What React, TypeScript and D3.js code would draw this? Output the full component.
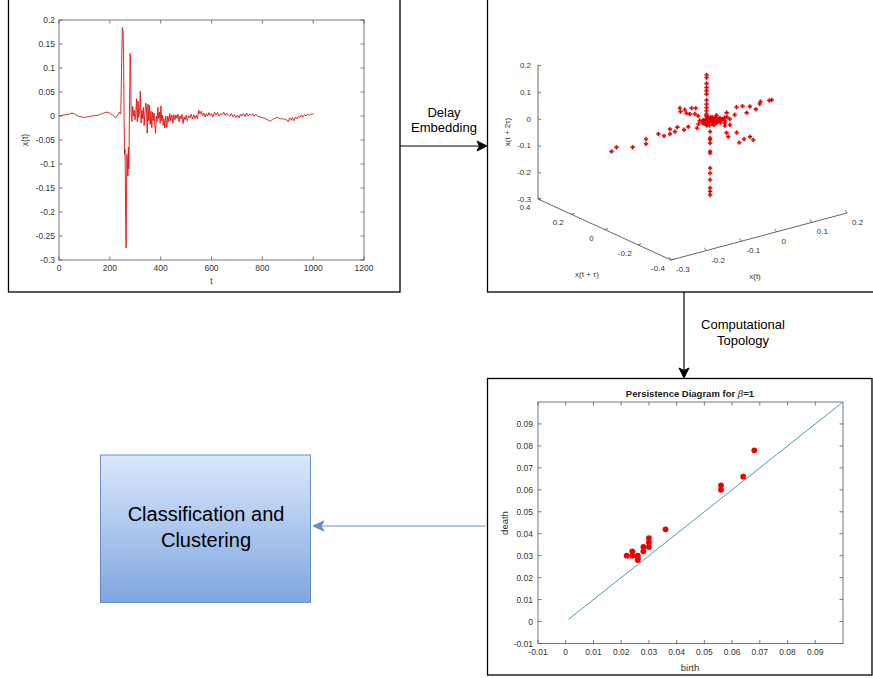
import React from "react";
import * as d3 from "d3";

// ---------- DATA ----------
// time series x(t): [t, value]
const seriesT: number[] = [
  0, 10, 20, 30, 40, 50, 60, 70, 80, 90, 100, 110, 120, 130, 140, 150, 160, 170, 180, 190, 200, 210, 220, 225, 230, 237, 243,
  247, 249, 252, 254, 256, 258, 260, 262, 264, 265, 267, 269, 271, 273, 275, 277, 280, 282, 284, 287,
  290, 293, 296, 299, 302, 305, 308, 311, 314, 317, 320, 323, 326, 329, 332, 335, 338, 341, 344, 347, 350, 353, 356, 359,
  362, 365, 368, 371, 374, 377, 380, 383, 386, 389, 392, 395, 398, 401, 404, 407, 410, 413, 416, 420,
  424, 428, 432, 436, 440, 444, 448, 452, 456, 460, 464, 468, 472, 476, 480, 484, 488, 492, 496, 500,
  505, 510, 515, 520, 525, 530, 535, 540, 545, 550, 555, 560, 565, 570, 575, 580, 585, 590, 595, 600,
  606, 612, 618, 624, 630, 636, 642, 648, 654, 660, 666, 672, 678, 684, 690, 696, 702, 708, 714, 720,
  726, 732, 738, 744, 750, 756, 762, 768, 774, 780, 790, 800, 810, 820, 826, 832, 840, 848, 856, 864,
  872, 880, 886, 892, 897, 902, 908, 914, 918, 924, 930, 936, 942, 948, 954, 960, 966, 972, 978, 984, 990, 996, 1002,
];
const seriesX: number[] = [
  0.0, 0.001, 0.002, 0.003, 0.004, 0.006, 0.005, 0.001, -0.001, -0.002, -0.003, -0.002, -0.001, 0.0, 0.001, 0.001, 0.003, 0.005, 0.007, 0.008, 0.006, 0.002, -0.002, -0.003, 0.001, 0.008, 0.004,
  0.12, 0.184, 0.178, 0.13, 0.0, -0.08, -0.07, -0.2, -0.275, -0.2, -0.08, -0.1, -0.125, -0.065, -0.11, 0.0, 0.13, 0.1, 0.0, -0.012,
  0.02, 0.0, 0.012, -0.008, 0.005, 0.036, -0.012, 0.031, -0.003, 0.01, 0.052, -0.015, 0.012, -0.006, 0.018, -0.02, 0.006, 0.027, 0.02, -0.036, 0.025, -0.01, 0.022,
  -0.018, 0.01, -0.024, 0.008, -0.01, 0.006, -0.02, -0.036, 0.0, -0.012, 0.018, -0.005, 0.008, -0.015, 0.021, -0.01, 0.002, -0.02, -0.006, -0.025, 0.0, -0.024,
  0.0, -0.012, 0.005, -0.01, 0.002, -0.015, 0.003, -0.008, 0.002, -0.005, 0.004, -0.012, 0.0, -0.006, 0.003, -0.016, -0.002, -0.008, 0.002, -0.01,
  0.001, -0.004, 0.004, -0.006, 0.003, -0.005, 0.002, -0.006, 0.012, 0.004, 0.01, 0.0, 0.006, -0.002, 0.005, 0.0, 0.007, 0.001, 0.005, -0.002,
  0.008, 0.002, 0.007, 0.0, 0.005, 0.003, 0.008, 0.001, 0.006, 0.002, 0.0, 0.005, -0.002, 0.003, -0.003, 0.002, -0.004, 0.004, 0.0, 0.005,
  -0.001, 0.006, 0.0, 0.004, 0.001, 0.005, -0.001, 0.004, 0.0, -0.002, -0.003, -0.005, -0.008, -0.009, -0.011, -0.007, -0.005, -0.003, -0.004, -0.006,
  -0.005, -0.008, -0.006, -0.01, -0.012, -0.004, -0.008, -0.003, -0.01, -0.002, -0.006, 0.0, -0.003, 0.002, -0.002, 0.003, 0.0, 0.004, 0.001, 0.005, 0.003, 0.005, 0.004,
];
const tsXTicks = [0, 200, 400, 600, 800, 1000, 1200];
const tsYTicks = [0.2, 0.15, 0.1, 0.05, 0, -0.05, -0.1, -0.15, -0.2, -0.25, -0.3];

// delay embedding points: x(t), x(t+tau), x(t+2tau)
const embXt: number[] = [
  -0.01, -0.01, -0.01, -0.01, -0.01, -0.01, -0.01, -0.01, -0.01, -0.01, -0.01, 0, 0, 0, 0, 0, 0, 0, 0, 0, 0, 0, 0,
  -0.28, -0.266, -0.22, -0.182, -0.182, -0.147, -0.131, -0.114, -0.114, -0.1, -0.093, -0.074, -0.062, -0.037,
  0.175, 0.168, 0.143, 0.141, 0.13, 0.113, 0.104, 0.092, 0.075, 0.07, 0.056, 0.047, 0.042,
  0, 0, 0, 0, 0, 0, 0, 0, 0,
  0, 0, 0, 0, 0, 0, 0, 0, 0,
  0, 0.006, -0.006, 0.012, -0.012, 0.009, -0.009, 0.003, 0.018, -0.018, 0.015, -0.003, 0.006, -0.012, 0.021, 0.024, -0.021, 0, 0.012, -0.006,
  0.027, 0.03, -0.024, 0.009, 0.017, -0.015, 0.005, 0.036, -0.03, 0.018, 0.007, -0.005, 0.024, 0.033, -0.009, 0.039, 0.012, -0.018, 0.042, 0,
  0.004, -0.004, 0.008, -0.008, 0.002, 0.014, -0.014, 0.01, 0.02, -0.002, 0.016, -0.01, 0.026, 0.005, -0.016, 0.011, 0.001, 0.022, -0.007, 0.013,
];
const embXtau: number[] = [
  0, 0, 0, 0, 0, 0, 0, 0, 0, 0, 0, 0, 0, 0, 0, 0, 0, 0, 0, 0, 0, 0, 0,
  0, 0, 0, 0, 0, 0, 0, 0, 0, 0, 0, 0, 0, 0,
  0, 0, 0, 0, 0, 0, 0, 0, 0, 0, 0, 0, 0,
  0.182, 0.178, 0.152, 0.142, 0.111, 0.122, 0.086, 0.092, 0.072,
  -0.099, -0.109, -0.16, -0.175, -0.204, -0.24, -0.26, -0.089, -0.119,
  0, 0, 0.006, -0.006, 0, 0.006, -0.006, 0.012, 0, 0.006, -0.012, -0.012, 0.009, 0.012, 0.006, -0.006, 0, -0.018, 0.012, -0.009,
  0, -0.012, 0.012, -0.018, 0.009, -0.012, 0.018, 0, 0.006, -0.024, -0.003, 0.003, 0.012, -0.018, 0.021, -0.006, 0, -0.018, -0.012, 0.024,
  0.002, -0.002, 0.004, 0.008, -0.008, -0.004, 0.004, -0.01, 0.006, 0.01, -0.006, 0.002, -0.004, -0.012, 0.008, 0.014, -0.014, -0.008, 0.004, 0,
];
const embX2tau: number[] = [
  0.175, 0.165, 0.143, 0.128, 0.116, 0.103, 0.081, 0.066, 0.053, 0.041, 0.029, -0.04, -0.064, -0.07, -0.083, -0.114, -0.12, -0.176, -0.195, -0.22, -0.25, -0.263, -0.276,
  -0.016, -0.005, -0.021, -0.022, -0.004, 0.003, -0.01, -0.009, 0.009, -0.005, 0.009, -0.007, 0, -0.014,
  0.017, 0.017, 0.022, 0.014, -0.002, 0.014, -0.006, 0.023, 0.025, -0.002, -0.013, 0.014, -0.023,
  -0.004, -0.016, -0.002, -0.012, 0.016, -0.009, 0.023, 0, -0.002,
  -0.016, -0.028, 0.002, -0.031, -0.01, 0.009, 0.003, 0.007, 0.019,
  0, 0.003, 0, 0.006, -0.006, -0.003, 0.005, -0.006, 0, 0.003, -0.006, 0.007, 0.009, -0.009, -0.003, 0.003, 0, -0.003, 0.006, -0.012,
  -0.009, 0, 0.006, 0.012, -0.012, 0.009, 0.003, -0.006, -0.003, -0.006, -0.015, 0.015, 0.009, 0.006, -0.003, -0.012, -0.018, -0.006, 0.003, 0.012,
  0.002, -0.002, -0.004, 0.004, 0.006, -0.006, 0.002, 0.008, -0.008, 0.004, -0.01, 0.01, 0.002, -0.004, 0.006, -0.002, 0.012, -0.005, -0.012, 0.0,
];
const embXtTicks = [-0.3, -0.2, -0.1, 0, 0.1, 0.2];
const embXtauTicks = [0.4, 0.2, 0, -0.2, -0.4];
const embZTicks = [0.2, 0.1, 0, -0.1, -0.2, -0.3];

// persistence diagram
const pdBirth: number[] = [0.022, 0.024, 0.024, 0.026, 0.026, 0.026, 0.028, 0.028, 0.03, 0.03, 0.03, 0.036, 0.056, 0.056, 0.064, 0.068];
const pdDeath: number[] = [0.03, 0.03, 0.032, 0.028, 0.029, 0.03, 0.032, 0.034, 0.034, 0.036, 0.038, 0.042, 0.06, 0.062, 0.066, 0.078];
const pdTicks = [-0.01, 0, 0.01, 0.02, 0.03, 0.04, 0.05, 0.06, 0.07, 0.08, 0.09];
const pdDiagonal = [0.001, 0.1];

const FONT = "'Liberation Sans', Arial, Helvetica, sans-serif";
const fmt = (v: number) => (Math.abs(v) < 1e-9 ? "0" : String(+v.toFixed(3)));

export default function App() {
  // ---------- panel 1 ----------
  const tx = d3.scaleLinear().domain([0, 1200]).range([59, 364]);
  const ty = d3.scaleLinear().domain([-0.3, 0.2]).range([260, 20]);
  const tsLine = d3
    .line<number>()
    .x((_, i) => tx(seriesT[i]))
    .y((d) => ty(d));

  // ---------- panel 2 (3D) ----------
  const ox = 671, oy = 260;
  const xtDx = d3.scaleLinear().domain([-0.3, 0.2]).range([0, 176]);
  const xtDy = d3.scaleLinear().domain([-0.3, 0.2]).range([0, -47]);
  const xaDx = d3.scaleLinear().domain([-0.4, 0.4]).range([0, -133]);
  const xaDy = d3.scaleLinear().domain([-0.4, 0.4]).range([0, -61]);
  const zDy = d3.scaleLinear().domain([-0.3, 0.2]).range([0, -134]);
  const proj = (a: number, b: number, c: number): [number, number] => [
    ox + xtDx(a) + xaDx(b),
    oy + xtDy(a) + xaDy(b) + zDy(c),
  ];
  const corner = proj(-0.3, 0.4, -0.3);
  const crossSym = d3.symbol().type(d3.symbolCross).size(9)();

  // ---------- panel 3 ----------
  const px = d3.scaleLinear().domain([-0.01, 0.1]).range([538, 843]);
  const py = d3.scaleLinear().domain([-0.01, 0.1]).range([643.5, 402]);

  const axisCol = "#555";
  const txtCol = "#333";

  return (
    <svg width={873} height={678} style={{ position: "absolute", left: 0, top: 0, background: "#fff" }} fontFamily={FONT}>
      <defs>
        <linearGradient id="boxGrad" x1="0" y1="0" x2="0" y2="1">
          <stop offset="0%" stopColor="#dae8fc" />
          <stop offset="100%" stopColor="#7ea6e0" />
        </linearGradient>
      </defs>

      {/* Panel frames */}
      <rect x={8.5} y={-5} width={391.5} height={297} fill="none" stroke="#000" strokeWidth={1.3} />
      <rect x={487.5} y={-5} width={400} height={297} fill="none" stroke="#000" strokeWidth={1.3} />
      <rect x={487.5} y={378.5} width={384.5} height={296.5} fill="none" stroke="#000" strokeWidth={1.3} />

      {/* ---------- Panel 1: time series ---------- */}
      <g>
        <rect x={tx(0)} y={ty(0.2)} width={tx(1200) - tx(0)} height={ty(-0.3) - ty(0.2)} fill="none" stroke={axisCol} strokeWidth={0.8} />
        {tsXTicks.map((t) => (
          <g key={"tx" + t}>
            <line x1={tx(t)} x2={tx(t)} y1={ty(-0.3)} y2={ty(-0.3) - 3.5} stroke={axisCol} strokeWidth={0.8} />
            <line x1={tx(t)} x2={tx(t)} y1={ty(0.2)} y2={ty(0.2) + 3.5} stroke={axisCol} strokeWidth={0.8} />
            <text x={tx(t)} y={ty(-0.3) + 11} fontSize={8.5} fill={txtCol} textAnchor="middle">{t}</text>
          </g>
        ))}
        {tsYTicks.map((v) => (
          <g key={"ty" + v}>
            <line x1={tx(0)} x2={tx(0) + 3.5} y1={ty(v)} y2={ty(v)} stroke={axisCol} strokeWidth={0.8} />
            <line x1={tx(1200)} x2={tx(1200) - 3.5} y1={ty(v)} y2={ty(v)} stroke={axisCol} strokeWidth={0.8} />
            <text x={tx(0) - 4} y={ty(v) + 3} fontSize={8.5} fill={txtCol} textAnchor="end">{fmt(v)}</text>
          </g>
        ))}
        <path d={tsLine(seriesX) || ""} fill="none" stroke="#dd1111" strokeWidth={0.9} strokeLinejoin="round" />
        <text x={tx(600)} y={284} fontSize={8.5} fill={txtCol} textAnchor="middle">t</text>
        <text transform={`translate(28,${ty(-0.05)}) rotate(-90)`} fontSize={8.5} fill={txtCol} textAnchor="middle">x(t)</text>
      </g>

      {/* Delay Embedding arrow */}
      <line x1={400} y1={146} x2={481} y2={146} stroke="#000" strokeWidth={1.2} />
      <path d="M487,146 L477,141 L479.5,146 L477,151 Z" fill="#000" stroke="#000" strokeWidth={1} />
      <text x={444} y={117} fontSize={13} textAnchor="middle" fill="#000">Delay</text>
      <text x={444} y={132} fontSize={13} textAnchor="middle" fill="#000">Embedding</text>

      {/* ---------- Panel 2: 3D embedding ---------- */}
      <g>
        <line x1={corner[0]} y1={proj(-0.3, 0.4, 0.2)[1]} x2={corner[0]} y2={corner[1]} stroke={axisCol} strokeWidth={0.9} />
        <line x1={corner[0]} y1={corner[1]} x2={proj(-0.3, -0.4, -0.3)[0]} y2={proj(-0.3, -0.4, -0.3)[1]} stroke={axisCol} strokeWidth={0.9} />
        <line x1={ox} y1={oy} x2={proj(0.2, -0.4, -0.3)[0]} y2={proj(0.2, -0.4, -0.3)[1]} stroke={axisCol} strokeWidth={0.9} />
        {embZTicks.map((v) => {
          const p = proj(-0.3, 0.4, v);
          return (
            <g key={"ez" + v}>
              <line x1={p[0]} x2={p[0] + 3} y1={p[1]} y2={p[1] + 1} stroke={axisCol} strokeWidth={0.8} />
              <text x={p[0] - 7} y={p[1] + 3} fontSize={8} fill={txtCol} textAnchor="end">{fmt(v)}</text>
            </g>
          );
        })}
        {embXtauTicks.map((v) => {
          const p = proj(-0.3, v, -0.3);
          return (
            <g key={"ea" + v}>
              <line x1={p[0]} x2={p[0] + 3.5} y1={p[1]} y2={p[1] - 1} stroke={axisCol} strokeWidth={0.8} />
              <text x={p[0] - 13} y={p[1] + 11} fontSize={8} fill={txtCol} textAnchor="middle">{fmt(v)}</text>
            </g>
          );
        })}
        {embXtTicks.map((v) => {
          const p = proj(v, -0.4, -0.3);
          return (
            <g key={"et" + v}>
              <line x1={p[0]} x2={p[0] - 2} y1={p[1]} y2={p[1] - 3} stroke={axisCol} strokeWidth={0.8} />
              <text x={p[0] + 5} y={p[1] + 12} fontSize={8} fill={txtCol} textAnchor="start">{fmt(v)}</text>
            </g>
          );
        })}
        <text transform={`translate(510,132) rotate(-90)`} fontSize={8} fill={txtCol} textAnchor="middle">x(t + 2τ)</text>
        <text x={587} y={277} fontSize={8} fill={txtCol} textAnchor="middle">x(t + τ)</text>
        <text x={755} y={279} fontSize={8} fill={txtCol} textAnchor="middle">x(t)</text>
        {embXt.map((a, i) => {
          const p = proj(a, embXtau[i], embX2tau[i]);
          return <path key={"ep" + i} d={crossSym || ""} transform={`translate(${p[0]},${p[1]})`} fill="#e00000" stroke="#e00000" strokeWidth={0.3} />;
        })}
      </g>

      {/* Computational Topology arrow */}
      <line x1={684} y1={292} x2={684} y2={372} stroke="#000" strokeWidth={1.2} />
      <path d="M684,378 L679,368 L684,370.5 L689,368 Z" fill="#000" stroke="#000" strokeWidth={1} />
      <text x={743} y={329} fontSize={13} textAnchor="middle" fill="#000">Computational</text>
      <text x={743} y={345} fontSize={13} textAnchor="middle" fill="#000">Topology</text>

      {/* ---------- Panel 3: persistence diagram ---------- */}
      <g>
        <rect x={px(-0.01)} y={py(0.1)} width={px(0.1) - px(-0.01)} height={py(-0.01) - py(0.1)} fill="none" stroke={axisCol} strokeWidth={0.8} />
        {pdTicks.map((v) => (
          <g key={"pt" + v}>
            <line x1={px(v)} x2={px(v)} y1={py(-0.01)} y2={py(-0.01) - 3.5} stroke={axisCol} strokeWidth={0.8} />
            <line x1={px(v)} x2={px(v)} y1={py(0.1)} y2={py(0.1) + 3.5} stroke={axisCol} strokeWidth={0.8} />
            <text x={px(v)} y={py(-0.01) + 11} fontSize={8.5} fill={txtCol} textAnchor="middle">{fmt(v)}</text>
            <line x1={px(-0.01)} x2={px(-0.01) + 3.5} y1={py(v)} y2={py(v)} stroke={axisCol} strokeWidth={0.8} />
            <line x1={px(0.1)} x2={px(0.1) - 3.5} y1={py(v)} y2={py(v)} stroke={axisCol} strokeWidth={0.8} />
            <text x={px(-0.01) - 5} y={py(v) + 3} fontSize={8.5} fill={txtCol} textAnchor="end">{fmt(v)}</text>
          </g>
        ))}
        <line x1={px(pdDiagonal[0])} y1={py(pdDiagonal[0])} x2={px(pdDiagonal[1])} y2={py(pdDiagonal[1])} stroke="#3a8db5" strokeWidth={0.9} />
        {pdBirth.map((b, i) => (
          <circle key={"pd" + i} cx={px(b)} cy={py(pdDeath[i])} r={2.9} fill="#ee0000" />
        ))}
        <text x={690} y={397} fontSize={9.5} fontWeight="bold" fill="#222" textAnchor="middle">
          Persistence Diagram for <tspan fontStyle="italic" fontFamily="'DejaVu Serif', serif" fontWeight="normal">β</tspan>=1
        </text>
        <text x={690} y={671} fontSize={9.5} fill={txtCol} textAnchor="middle">birth</text>
        <text transform={`translate(508,523) rotate(-90)`} fontSize={9.5} fill={txtCol} textAnchor="middle">death</text>
      </g>

      {/* Arrow to classification */}
      <line x1={485} y1={526} x2={320} y2={526} stroke="#6c8ebf" strokeWidth={1.2} />
      <path d="M313,526 L324,521 L321,526 L324,531 Z" fill="#6c8ebf" stroke="#6c8ebf" strokeWidth={1} />

      {/* Classification box */}
      <rect x={100.5} y={455} width={210} height={147.5} fill="url(#boxGrad)" stroke="#6c8ebf" strokeWidth={1} />
      <text x={206} y={521} fontSize={20} textAnchor="middle" fill="#000">Classification and</text>
      <text x={206} y={547} fontSize={20} textAnchor="middle" fill="#000">Clustering</text>
    </svg>
  );
}
